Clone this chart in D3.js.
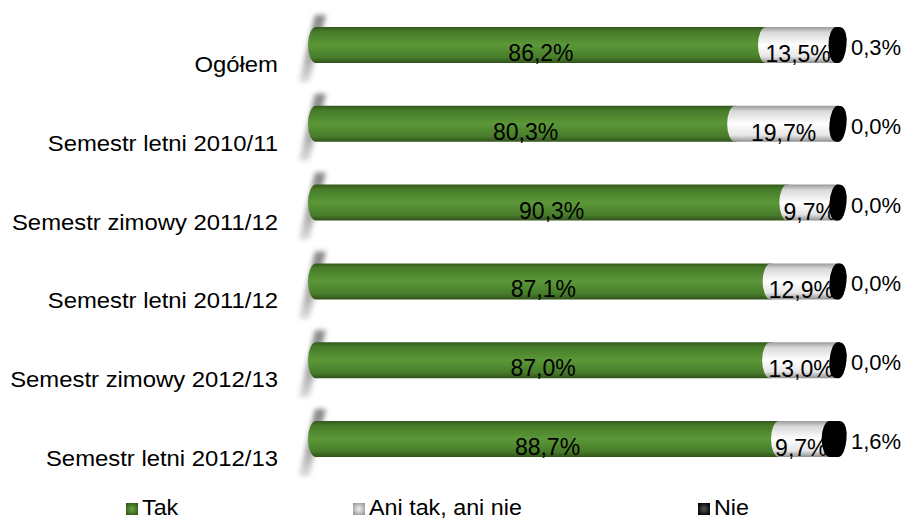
<!DOCTYPE html>
<html>
<head>
<meta charset="utf-8">
<script src="https://cdn.jsdelivr.net/npm/d3@7"></script>
<style>
  body { margin: 0; background: #fff; }
  svg text { font-family: "Liberation Sans", Arial, sans-serif; fill: #000; }
</style>
</head>
<body>
<div id="chart"></div>
<script>
/* Chart data. */
const categories = [
  'Ogółem',
  'Semestr letni 2010/11',
  'Semestr zimowy 2011/12',
  'Semestr letni 2011/12',
  'Semestr zimowy 2012/13',
  'Semestr letni 2012/13'
];
const seriesNames = ['Tak', 'Ani tak, ani nie', 'Nie'];
const tak = [86.2, 80.3, 90.3, 87.1, 87.0, 88.7];
const ani = [13.5, 19.7, 9.7, 12.9, 13.0, 9.7];
const nie = [0.3, 0.0, 0.0, 0.0, 0.0, 1.6];

const width = 908;
const height = 519;
const rx = 8;     // horizontal radius of the cylinder end caps
const ry = 18;    // half bar thickness

const fmt = (v) => d3.format('.1f')(v).replace('.', ',') + '%';

const svg = d3.select('#chart').append('svg')
  .attr('width', width)
  .attr('height', height);

const defs = svg.append('defs');

function vGradient(id, stops) {
  const g = defs.append('linearGradient')
    .attr('id', id)
    .attr('x1', 0).attr('y1', 0).attr('x2', 0).attr('y2', 1);
  stops.forEach(([o, c]) => g.append('stop').attr('offset', o).attr('stop-color', c));
}
vGradient('g-tak', [[0, '#33581c'], [0.12, '#467a28'], [0.5, '#5b9838'], [0.85, '#477c2a'], [1, '#30521a']]);
vGradient('g-ani', [[0, '#9a9a9a'], [0.15, '#d8d8d8'], [0.5, '#ffffff'], [0.82, '#e6e6e6'], [1, '#8f8f8f']]);
vGradient('g-nie', [[0, '#000'], [1, '#000']]);
vGradient('g-shadow', [[0, '#7a7a7a'], [0.6, '#9a9a9a'], [1, '#d8d8d8']]);

defs.append('filter').attr('id', 'blur')
  .attr('x', '-50%').attr('y', '-50%').attr('width', '200%').attr('height', '200%')
  .append('feGaussianBlur').attr('stdDeviation', 2.5);

/* Scales. */
const x = d3.scaleLinear().domain([0, 100]).range([316, 838]);
const y = d3.scalePoint().domain(categories).range([45, 439]);

/* Category labels. */
svg.append('g').selectAll('text')
  .data(categories)
  .join('text')
  .attr('transform', (d) => `translate(278, ${y(d) + 27}) scale(1.085, 1)`)
  .attr('text-anchor', 'end')
  .style('font-size', '22px')
  .text((d) => d);

/* Shadows of the 3D wall. */
svg.append('g').selectAll('path')
  .data(categories)
  .join('path')
  .attr('d', (d) => {
    const cy = y(d);
    return `M${x(0) - 1},${cy - 30} L${x(0) + 10},${cy - 30} L${x(0) - 7},${cy + 37} L${x(0) - 17},${cy + 37} Z`;
  })
  .attr('fill', 'url(#g-shadow)')
  .attr('opacity', 0.9)
  .attr('filter', 'url(#blur)');

/* Segment shape: left end bulges left, right end bulges right. */
function cylinder(x0, x1, cy) {
  return `M${x0},${cy - ry}` +
    `L${x1},${cy - ry}` +
    `A${rx},${ry} 0 0 1 ${x1},${cy + ry}` +
    `L${x0},${cy + ry}` +
    `A${rx},${ry} 0 0 1 ${x0},${cy - ry}Z`;
}

const rows = categories.map((c, i) => ({
  cat: c,
  segs: [
    { key: 'tak', a: 0, b: tak[i], v: tak[i] },
    { key: 'ani', a: tak[i], b: tak[i] + ani[i], v: ani[i] },
    { key: 'nie', a: tak[i] + ani[i], b: tak[i] + ani[i] + nie[i], v: nie[i] }
  ]
}));

const rowG = svg.append('g').selectAll('g')
  .data(rows)
  .join('g');

rowG.selectAll('path.seg')
  .data((r) => r.segs.map((s) => ({ ...s, cy: y(r.cat) })))
  .join('path')
  .attr('class', 'seg')
  .attr('d', (s) => cylinder(x(s.a), x(s.b), s.cy))
  .attr('fill', (s) => `url(#g-${s.key})`);

// black end cap of each cylinder
rowG.append('ellipse')
  .attr('cx', (r) => x(r.segs[2].b))
  .attr('cy', (r) => y(r.cat))
  .attr('rx', rx + 0.5)
  .attr('ry', ry)
  .attr('transform', (r) => `rotate(8, ${x(r.segs[2].b)}, ${y(r.cat)})`)
  .attr('fill', '#000');

/* Value labels. */
rowG.append('text')
  .attr('x', (r) => (x(r.segs[0].a) + x(r.segs[0].b)) / 2)
  .attr('y', (r) => y(r.cat) + 16)
  .attr('text-anchor', 'middle')
  .style('font-size', '23px')
  .text((r) => fmt(r.segs[0].v));

rowG.append('text')
  .attr('x', (r) => (x(r.segs[1].a) + x(r.segs[1].b)) / 2 - 3)
  .attr('y', (r) => y(r.cat) + 17)
  .attr('text-anchor', 'middle')
  .style('font-size', '23px')
  .text((r) => fmt(r.segs[1].v));

rowG.append('text')
  .attr('x', 851)
  .attr('y', (r) => y(r.cat) + 10)
  .style('font-size', '22px')
  .text((r) => fmt(r.segs[2].v));

/* Legend. */
const legendX = [126, 353, 698];
const legendFill = ['url(#g-leg-tak)', 'url(#g-leg-ani)', 'url(#g-leg-nie)'];
[['g-leg-tak', '#2f5a1a', '#6aa842'], ['g-leg-ani', '#9a9a9a', '#f2f2f2'], ['g-leg-nie', '#000', '#555']]
  .forEach(([id, c0, c1]) => {
    const g = defs.append('radialGradient').attr('id', id).attr('cx', 0.5).attr('cy', 0.5).attr('r', 0.6);
    g.append('stop').attr('offset', 0).attr('stop-color', c1);
    g.append('stop').attr('offset', 1).attr('stop-color', c0);
  });

const legend = svg.append('g').selectAll('g')
  .data(seriesNames)
  .join('g')
  .attr('transform', (d, i) => `translate(${legendX[i]}, 503)`);
legend.append('rect')
  .attr('width', 12).attr('height', 12)
  .attr('fill', (d, i) => legendFill[i]);
legend.append('text')
  .attr('transform', 'translate(16, 12) scale(1.06, 1)')
  .style('font-size', '22px')
  .text((d) => d);
</script>
</body>
</html>
